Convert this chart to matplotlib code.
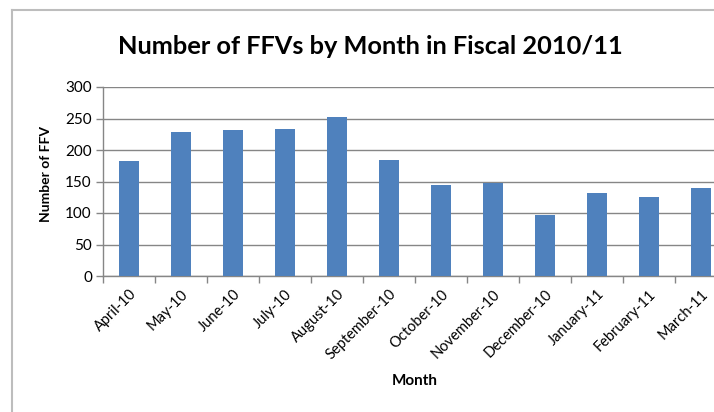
import numpy as np
from matplotlib import pyplot as plt
from matplotlib.lines import Line2D

months = ['April-10', 'May-10', 'June-10', 'July-10', 'August-10', 'September-10',
          'October-10', 'November-10', 'December-10', 'January-11', 'February-11', 'March-11']
ffv_counts = [182, 229, 231, 234, 252, 184, 145, 147, 97, 131, 126, 139]
y_ticks = [0, 50, 100, 150, 200, 250, 300]

plt.rcParams['font.family'] = ['Lato', 'DejaVu Sans']

fig = plt.figure(figsize=(7.14, 4.12), dpi=100)
W, H = 714, 412
# plot area runs past the right edge, like the cropped original
ax = fig.add_axes([103 / W, (H - 276) / H, 624 / W, 189 / H])

x = np.arange(len(months))
ax.bar(x, ffv_counts, width=0.4, color='#4F81BD', zorder=3)

ax.set_xlim(-0.5, len(months) - 0.5)
ax.set_ylim(0, 300)
ax.set_yticks(y_ticks)
ax.yaxis.grid(True, color='#868686', linewidth=1.0, zorder=0)

ax.set_xticks(x)
ax.set_xticklabels(months, rotation=45, ha='right', rotation_mode='anchor', fontsize=10.5)
ax.set_xticks(np.arange(len(months) + 1) - 0.5, minor=True)
ax.tick_params(axis='x', which='major', length=0, pad=8)
ax.tick_params(axis='x', which='minor', length=5, color='#868686', width=1)
ax.tick_params(axis='y', length=5, color='#868686', width=1, labelsize=11, pad=3)

for side in ['top', 'right']:
    ax.spines[side].set_visible(False)
for side in ['left', 'bottom']:
    ax.spines[side].set_color('#868686')
    ax.spines[side].set_linewidth(1.0)

fig.text(370 / W, 1 - 46 / H, 'Number of FFVs by Month in Fiscal 2010/11',
         ha='center', va='center', fontsize=18.3, fontweight='bold')
fig.text(46 / W, 1 - 174 / H, 'Number of FFV', rotation=90,
         ha='center', va='center', fontsize=10, fontweight='bold')
fig.text(415 / W, 1 - 381 / H, 'Month', ha='center', va='center',
         fontsize=11, fontweight='bold')

# chart frame
fig.add_artist(Line2D([12 / W, 12 / W], [0, 1 - 10 / H], transform=fig.transFigure,
                      color='#bdbdbd', linewidth=1.5))
fig.add_artist(Line2D([12 / W, 1], [1 - 10 / H, 1 - 10 / H], transform=fig.transFigure,
                      color='#bdbdbd', linewidth=1.5))

plt.savefig('out.png', dpi=100)
